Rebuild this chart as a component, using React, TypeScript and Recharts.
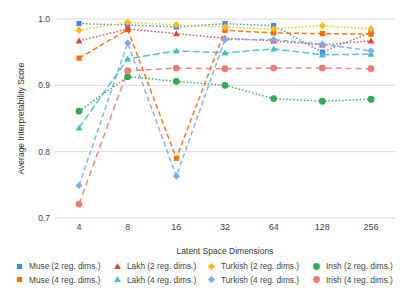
import React from 'react';
import { LineChart, Line, XAxis, YAxis, CartesianGrid, Legend } from 'recharts';

// latent space sizes on the x axis
const dims = ['4', '8', '16', '32', '64', '128', '256'];

// scores
const museReg2 = [0.993, 0.991, 0.988, 0.993, 0.99, 0.95, 0.98];
const museReg4 = [0.941, 0.984, 0.79, 0.983, 0.979, 0.978, 0.977];
const lakhReg2 = [0.967, 0.985, 0.978, 0.971, 0.967, 0.961, 0.967];
const lakhReg4 = [0.836, 0.94, 0.952, 0.949, 0.955, 0.946, 0.947];
const turkishReg2 = [0.983, 0.995, 0.991, 0.988, 0.985, 0.99, 0.985];
const turkishReg4 = [0.749, 0.964, 0.763, 0.969, 0.969, 0.962, 0.952];
const irishReg2 = [0.861, 0.913, 0.906, 0.9, 0.88, 0.876, 0.879];
const irishReg4 = [0.721, 0.922, 0.926, 0.925, 0.926, 0.926, 0.925];

const yTicks = [0.7, 0.8, 0.9, 1.0];

type Shape = 'square' | 'triangle' | 'diamond' | 'circle';

interface SeriesDef {
  key: string;
  name: string;
  values: number[];
  color: string;
  shape: Shape;
  dash: string;
}

const series: SeriesDef[] = [
  { key: 'museReg2', name: 'Muse (2 reg. dims.)', values: museReg2, color: '#4285F4', shape: 'square', dash: '1.5 2' },
  { key: 'museReg4', name: 'Muse (4 reg. dims.)', values: museReg4, color: '#FF6D01', shape: 'square', dash: '5 3' },
  { key: 'lakhReg2', name: 'Lakh (2 reg. dims.)', values: lakhReg2, color: '#EA4335', shape: 'triangle', dash: '1.5 2' },
  { key: 'lakhReg4', name: 'Lakh (4 reg. dims.)', values: lakhReg4, color: '#46BDC6', shape: 'triangle', dash: '7 3' },
  { key: 'turkishReg2', name: 'Turkish (2 reg. dims.)', values: turkishReg2, color: '#FBBC04', shape: 'diamond', dash: '1.5 2' },
  { key: 'turkishReg4', name: 'Turkish (4 reg. dims.)', values: turkishReg4, color: '#7BAAF7', shape: 'diamond', dash: '5 3' },
  { key: 'irishReg2', name: 'Irish (2 reg. dims.)', values: irishReg2, color: '#34A853', shape: 'circle', dash: '1.5 2' },
  { key: 'irishReg4', name: 'Irish (4 reg. dims.)', values: irishReg4, color: '#F07B72', shape: 'circle', dash: '6 4' },
];

const chartData = dims.map((d, i) => {
  const row: Record<string, string | number> = { dim: d };
  series.forEach(s => {
    row[s.key] = s.values[i];
  });
  return row;
});

const FONT = '"Liberation Sans", Arial, sans-serif';

function markerPath(shape: Shape, cx: number, cy: number, color: string, key?: string) {
  if (shape === 'square') {
    return <rect key={key} x={cx - 2.6} y={cy - 2.6} width={5.2} height={5.2} fill={color} />;
  }
  if (shape === 'triangle') {
    return <path key={key} d={`M${cx},${cy - 3.4} L${cx + 3.4},${cy + 2.6} L${cx - 3.4},${cy + 2.6} Z`} fill={color} />;
  }
  if (shape === 'diamond') {
    return <path key={key} d={`M${cx},${cy - 3.6} L${cx + 3.6},${cy} L${cx},${cy + 3.6} L${cx - 3.6},${cy} Z`} fill={color} />;
  }
  return <circle key={key} cx={cx} cy={cy} r={3.4} fill={color} />;
}

const makeDot = (s: SeriesDef) => (props: any) => {
  const { cx, cy, index } = props;
  if (cx == null || cy == null) return <g key={index} />;
  return markerPath(s.shape, cx, cy, s.color, `${s.key}-${index}`);
};

// legend columns, left edge of each marker column
const legendCols = [15, 113, 207, 312];

const CustomLegend = () => (
  <div style={{ position: 'relative', width: 409, height: 40, fontFamily: FONT, fontSize: 8.3, color: '#444' }}>
    {series.map((s, i) => {
      const col = Math.floor(i / 2);
      const row = i % 2;
      return (
        <div
          key={s.key}
          style={{
            position: 'absolute',
            left: legendCols[col],
            top: row * 13.5,
            height: 12,
            display: 'flex',
            alignItems: 'center',
            whiteSpace: 'nowrap',
          }}
        >
          <svg width={9} height={9} style={{ marginRight: 5 }}>
            {markerPath(s.shape, 4.5, 4.5, s.color)}
          </svg>
          <span>{s.name}</span>
        </div>
      );
    })}
  </div>
);

export default function App() {
  return (
    <div style={{ position: 'absolute', left: 0, top: 0, width: 409, height: 300, background: '#fff' }}>
      <LineChart
        width={409}
        height={300}
        data={chartData}
        margin={{ top: 19, right: 14, left: 0, bottom: 0 }}
        style={{ fontFamily: FONT }}
      >
        <CartesianGrid vertical={false} stroke="#dadada" />
        <XAxis
          dataKey="dim"
          height={42}
          padding={{ left: 24, right: 24 }}
          axisLine={false}
          tickLine={false}
          tickSize={4}
          tickMargin={2}
          tick={{ fontSize: 9, fill: '#444' }}
          label={{ value: 'Latent Space Dimensions', position: 'insideBottom', offset: 6, fontSize: 8.5, fill: '#333' }}
        />
        <YAxis
          type="number"
          domain={[0.7, 1.0]}
          ticks={yTicks}
          width={55}
          axisLine={false}
          tickLine={false}
          tickSize={3}
          tickMargin={2}
          tickFormatter={(v: number) => v.toFixed(1)}
          tick={{ fontSize: 8.5, fill: '#444' }}
          label={{
            value: 'Average Interpretability Score',
            angle: -90,
            position: 'insideLeft',
            offset: 21,
            fontSize: 8.5,
            fill: '#333',
            style: { textAnchor: 'middle' },
          }}
        />
        <Legend verticalAlign="bottom" height={40} wrapperStyle={{ left: 0, width: 409 }} content={<CustomLegend />} />
        {series.map(s => (
          <Line
            key={s.key}
            dataKey={s.key}
            name={s.name}
            stroke={s.color}
            strokeWidth={1.5}
            strokeOpacity={0.9}
            strokeDasharray={s.dash}
            dot={makeDot(s)}
            activeDot={false}
            isAnimationActive={false}
          />
        ))}
      </LineChart>
    </div>
  );
}
